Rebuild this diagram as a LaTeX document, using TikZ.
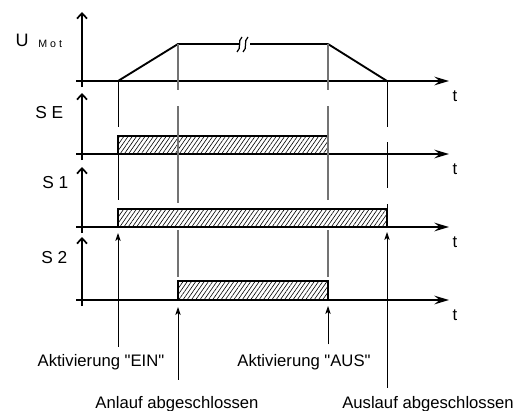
\documentclass[tikz,border=0pt]{standalone}
\usepackage{fontspec}
\setmainfont{Liberation Sans}[Ligatures=TeXOff]
\usepackage{tikz}
\usetikzlibrary{arrows.meta,patterns.meta}

\begin{document}
\begin{tikzpicture}[x=0.75pt,y=-0.75pt,
  achse/.style={line width=1.4pt},
  yachse/.style={line width=1.3pt,-{Straight Barb[length=4pt,width=7.5pt,line width=1.3pt]}},
  tachse/.style={line width=1.4pt,-{Stealth[length=11pt,width=6.5pt,inset=4pt]}},
  signal/.style={line width=1pt,pattern={Lines[angle=55,distance=2.6pt,line width=0.45pt]}},
  hilf/.style={line width=0.8pt,black!55},
  marke/.style={line width=0.7pt},
  pfeil/.style={line width=0.7pt,-{Stealth[length=6pt,width=4pt,inset=1.5pt]}},
  txt/.style={font=\fontsize{12.5}{15}\selectfont,inner sep=0pt,anchor=base}]

\useasboundingbox (0,0) rectangle (531,410);

\draw[signal] (118,154) rectangle (328,136);
\draw[signal] (118,227) rectangle (387,209);
\draw[signal] (178,300) rectangle (328,281);

\foreach \y/\top in {81/12,154/93,227/167,300/237}{
  \draw[yachse] (82,{\y+6}) -- (82,\top);
  \draw[tachse] (76,\y) -- (449,\y);
  \node[txt] at (455,{\y+20}) {t};
}

\node[txt,font=\fontsize{13.5}{16}\selectfont] (umot) at (22,46) {U};
\node[txt,anchor=base west,font=\fontsize{8}{10}\selectfont] (mot) at (38,48) {M o t};
\node[txt,anchor=base west,font=\fontsize{13}{16}\selectfont] (se) at (35,118) {S E};
\node[txt,anchor=base west,font=\fontsize{13}{16}\selectfont] (sa) at (42,188) {S 1};
\node[txt,anchor=base west,font=\fontsize{13}{16}\selectfont] (sb) at (41,263) {S 2};

\draw[achse] (118,81) -- (178,44) -- (240,44);
\draw[line width=1.1pt] (250,44) -- (328,44);
\draw[achse] (328,44) -- (387,81);
\draw[line width=0.9pt] (237,52) .. controls (242,48) and (237,41) .. (242,37);
\draw[line width=0.9pt] (243,52) .. controls (248,48) and (243,41) .. (248,37);

\draw[marke] (118,81) -- (118,127) (118,154) -- (118,200);
\draw[marke] (387,81) -- (387,127) (387,142) -- (387,188) (387,204) -- (387,209);
\draw[hilf] (178,44) -- (178,90) (178,106) -- (178,203) (178,230) -- (178,277);
\draw[hilf] (328,44) -- (328,90) (328,106) -- (328,200) (328,230) -- (328,277);

\node[txt] (lein) at (101,366) {Aktivierung "EIN"};
\node[txt] (laus) at (304,366) {Aktivierung "AUS"};
\node[txt] (lanl) at (177,408) {Anlauf abgeschlossen};
\node[txt] (lausl) at (428,408) {Auslauf abgeschlossen};

\coordinate (tein) at (118,233);
\coordinate (taus) at (328,306);
\coordinate (tanl) at (178,307);
\coordinate (tausl) at (387,232);
\draw[pfeil,shorten <=5pt] (lein.north -| tein) -- (tein);
\draw[pfeil,shorten <=7pt] (laus.north -| taus) -- (taus);
\draw[pfeil,shorten <=12pt] (lanl.north -| tanl) -- (tanl);
\draw[pfeil,shorten <=6pt] (lausl.north -| tausl) -- (tausl);
\end{tikzpicture}
\end{document}
